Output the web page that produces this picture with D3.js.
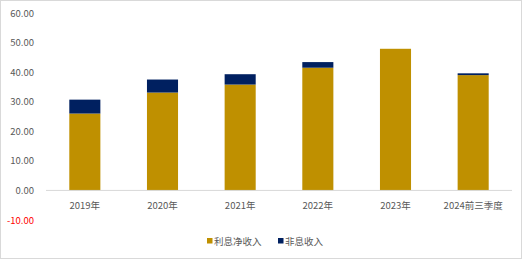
<!DOCTYPE html>
<html>
<head>
<meta charset="utf-8">
<script src="https://cdn.jsdelivr.net/npm/d3@7"></script>
<style>
  body { margin: 0; background: #fff; }
  svg text { font-family: "Noto Sans CJK SC", "Noto Sans", sans-serif; }
</style>
</head>
<body>
<script>
const categories = ["2019年", "2020年", "2021年", "2022年", "2023年", "2024前三季度"];
const netInterest = [26.0, 33.1, 35.8, 41.5, 47.9, 39.0];
const nonInterest = [4.7, 4.4, 3.5, 1.9, 0, 0.6];
const seriesNames = ["利息净收入", "非息收入"];
const yTicks = [-10, 0, 10, 20, 30, 40, 50, 60];

const w = 526, h = 260;
const colors = ["#BF9000", "#002060"];

const svg = d3.select("body").append("svg")
  .attr("width", w)
  .attr("height", h);

// outer frame
svg.append("rect")
  .attr("x", 0.5).attr("y", 0.5)
  .attr("width", w - 5).attr("height", h - 2)
  .attr("fill", "#fff")
  .attr("stroke", "#d9d9d9");

const xScale = d3.scaleBand()
  .domain(categories)
  .range([46, 512])
  .paddingInner(0.6)
  .paddingOuter(0.3);

const yScale = d3.scaleLinear()
  .domain([-10, 60])
  .range([220, 13]);

const data = categories.map((c, i) => ({ cat: c, a: netInterest[i], b: nonInterest[i] }));

// net interest income
svg.selectAll("rect.net")
  .data(data)
  .enter()
  .append("rect")
  .attr("class", "net")
  .attr("x", d => xScale(d.cat))
  .attr("y", d => yScale(d.a))
  .attr("width", xScale.bandwidth())
  .attr("height", d => yScale(0) - yScale(d.a))
  .attr("fill", colors[0]);

// non-interest income stacked on top
svg.selectAll("rect.non")
  .data(data.filter(d => d.b > 0))
  .enter()
  .append("rect")
  .attr("class", "non")
  .attr("x", d => xScale(d.cat))
  .attr("y", d => yScale(d.a + d.b))
  .attr("width", xScale.bandwidth())
  .attr("height", d => yScale(d.a) - yScale(d.a + d.b))
  .attr("fill", colors[1]);

// x axis line at zero
svg.append("line")
  .attr("x1", 46).attr("x2", 512)
  .attr("y1", yScale(0)).attr("y2", yScale(0))
  .attr("stroke", "#d9d9d9")
  .attr("stroke-width", 1);

// category labels
svg.selectAll("text.cat")
  .data(categories)
  .enter()
  .append("text")
  .attr("class", "cat")
  .attr("x", d => xScale(d) + xScale.bandwidth() / 2)
  .attr("y", 209)
  .attr("text-anchor", "middle")
  .style("font-size", "9.5px")
  .style("fill", "#595959")
  .text(d => d);

// y tick labels
svg.selectAll("text.ytick")
  .data(yTicks)
  .enter()
  .append("text")
  .attr("class", "ytick")
  .attr("x", 34)
  .attr("y", d => yScale(d) + 3.5)
  .attr("text-anchor", "end")
  .style("font-size", "9.5px")
  .style("fill", d => d < 0 ? "#FF0000" : "#595959")
  .text(d => d.toFixed(2));

// legend
const legendX = [207, 278];
const legend = svg.append("g").attr("id", "legend");
seriesNames.forEach((name, i) => {
  legend.append("rect")
    .attr("x", legendX[i])
    .attr("y", 238)
    .attr("width", 5.5)
    .attr("height", 5.5)
    .attr("fill", colors[i]);
  legend.append("text")
    .attr("x", legendX[i] + 7)
    .attr("y", 245)
    .style("font-size", "9.5px")
    .style("fill", "#595959")
    .text(name);
});
</script>
</body>
</html>
